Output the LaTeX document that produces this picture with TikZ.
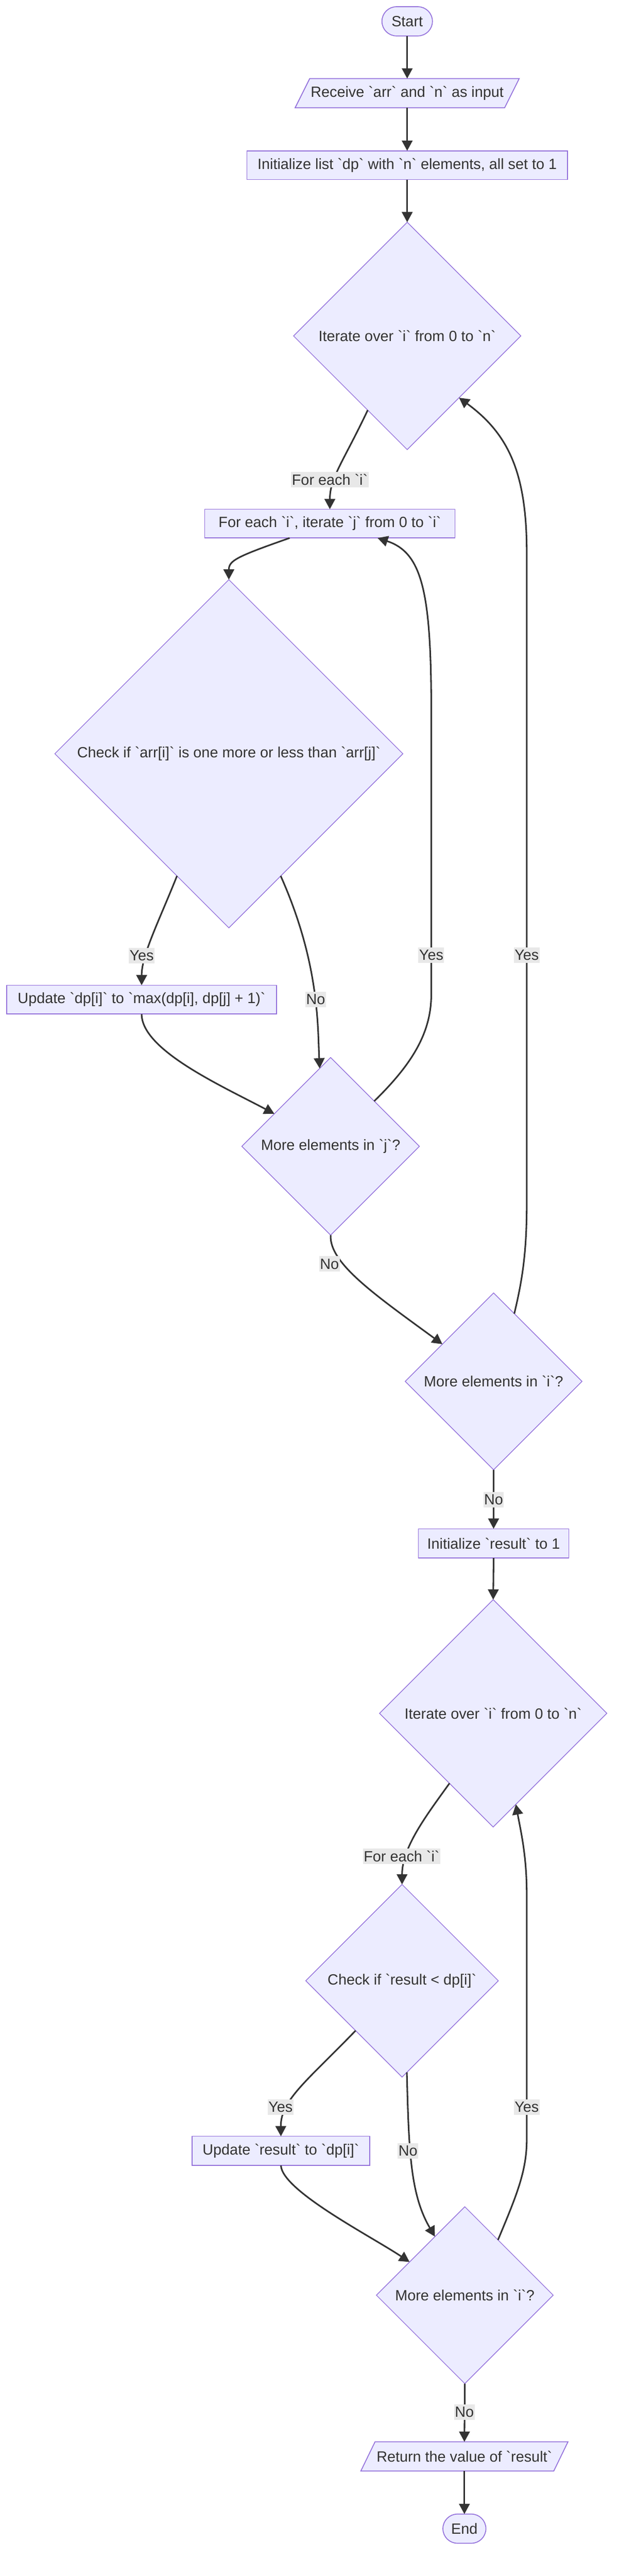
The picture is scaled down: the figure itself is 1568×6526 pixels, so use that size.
\documentclass[tikz,border=0pt]{standalone}
\usepackage{fontspec}
\setmainfont{Liberation Sans}[Ligatures=TeXOff]
\usetikzlibrary{shapes.geometric,arrows.meta,calc}
\definecolor{nfill}{HTML}{ECECFF}
\definecolor{nborder}{HTML}{9370DB}
\definecolor{edgec}{HTML}{333333}
\definecolor{lblbg}{HTML}{E8E8E8}
\pgfdeclarelayer{bg}
\pgfsetlayers{bg,main}
\tikzset{
  box/.style={rectangle, draw=nborder, fill=nfill, line width=1.1pt, inner sep=0pt, outer sep=0pt, minimum height=36.5pt},
  term/.style={rectangle, rounded corners=18.5pt, draw=nborder, fill=nfill, line width=1.1pt, inner sep=0pt, outer sep=0pt, minimum height=37pt},
  io/.style={rectangle, inner sep=0pt, outer sep=0pt, minimum height=37pt},
  pgram/.style={draw=nborder, fill=nfill, line width=1.1pt, line join=miter},
  dia/.style={diamond, aspect=1, draw=nborder, fill=nfill, line width=0.9pt, inner sep=0pt, outer sep=0pt},
  flow/.style={draw=edgec, line width=2pt, -{Triangle[length=13pt,width=13.5pt]}},
  elabel/.style={fill=lblbg, inner xsep=1pt, inner ysep=0pt, minimum height=19.5pt}
}
\begin{document}
\begin{tikzpicture}[x=0.5pt, y=-0.5pt, font=\fontsize{18.8}{22}\selectfont, text=edgec]
\begin{pgfonlayer}{bg}
\fill[white] (0,0) rectangle (1568,6526);
\end{pgfonlayer}
\useasboundingbox (0,0) rectangle (1568,6526);

% nodes
\node[term, minimum width=64pt] (start) at (1032,54) {Start};
\node[io, minimum width=265.5pt] (inp) at (1032,236) {Receive `arr` and `n` as input};
\node[box, minimum width=406pt] (initdp) at (1032,418.5) {Initialize list `dp` with `n` elements, all set to 1};
\node[dia, minimum width=288pt, minimum height=288pt] (d1) at (1032,851) {Iterate over `i` from 0 to `n`};
\node[box, minimum width=317pt] (fe) at (836,1326.5) {For each `i`, iterate `j` from 0 to `i`};
\node[dia, minimum width=441pt, minimum height=441pt] (d2) at (580,1909.5) {Check if `arr[i]` is one more or less than `arr[j]`};
\node[box, minimum width=342pt] (upd1) at (359,2532.5) {Update `dp[i]` to `max(dp[i], dp[j] + 1)`};
\node[dia, minimum width=225pt, minimum height=225pt] (d3) at (838,2904) {More elements in `j`?};
\node[dia, minimum width=224pt, minimum height=224pt] (d4) at (1251,3499.5) {More elements in `i`?};
\node[box, minimum width=190.5pt, minimum height=37pt] (initres) at (1251,3910) {Initialize `result` to 1};
\node[dia, minimum width=288pt, minimum height=288pt] (d5) at (1250,4340.5) {Iterate over `i` from 0 to `n`};
\node[dia, minimum width=244pt, minimum height=244pt] (d6) at (1019,5018) {Check if `result < dp[i]`};
\node[box, minimum width=225pt, minimum height=37pt] (upd2) at (712,5449) {Update `result` to `dp[i]`};
\node[dia, minimum width=224pt, minimum height=224pt] (d7) at (1178,5814.5) {More elements in `i`?};
\node[io, minimum width=244.5pt] (ret) at (1177,6223) {Return the value of `result`};
\node[term, minimum width=54.5pt] (endn) at (1177,6406) {End};

% parallelograms behind their texts
\begin{pgfonlayer}{bg}
\draw[pgram] ($(inp.south west)+(-18.5,0)$) -- ($(inp.north west)+(18.5,0)$) -- ($(inp.north east)+(18.5,0)$) -- ($(inp.south east)+(-18.5,0)$) -- cycle;
\draw[pgram] ($(ret.south west)+(-18,0)$) -- ($(ret.north west)+(18,0)$) -- ($(ret.north east)+(18,0)$) -- ($(ret.south east)+(-18,0)$) -- cycle;
\end{pgfonlayer}

% connectors
\draw[flow] (start.south) -- (inp.north);
\draw[flow] (inp.south) -- (initdp.north);
\draw[flow] (initdp.south) -- (d1.north);
\draw[flow] (d1.-118) .. controls (870,1170) and (836,1210) .. (fe.north);
\draw[flow] ([xshift=-51pt]fe.south) .. controls (600,1410) and (580,1420) .. (d2.north);
\draw[flow] (d2.-113) .. controls (400,2340) and (359,2420) .. (upd1.north);
\draw[flow] (d2.-67) .. controls (810,2440) and (805,2600) .. (d3.98);
\draw[flow] (upd1.south) .. controls (359,2660) and (560,2750) .. (d3.150);
\draw[flow] (d3.46) .. controls (1040,2700) and (1093,2620) .. (1093,2520) -- (1093,1800) .. controls (1093,1500) and (1070,1400) .. ([xshift=60.5pt]fe.south);
\draw[flow] (d3.south) .. controls (834,3200) and (950,3280) .. (d4.144);
\draw[flow] (d4.73.5) .. controls (1322,3250) and (1335,3180) .. (1335,3050) -- (1335,1400) .. controls (1335,1200) and (1290,1100) .. (d1.-50);
\draw[flow] (d4.south) -- (initres.north);
\draw[flow] (initres.south) -- (d5.north);
\draw[flow] (d5.-122.4) .. controls (1080,4600) and (1019,4680) .. (d6.north);
\draw[flow] (d6.-133.8) .. controls (780,5270) and (711,5320) .. (upd2.north);
\draw[flow] (d6.-87) .. controls (1036,5450) and (1040,5560) .. (d7.117.5);
\draw[flow] (upd2.south) .. controls (715,5550) and (940,5665) .. (d7.149.5);
\draw[flow] (d7.59.5) .. controls (1310,5560) and (1335,5500) .. (1335,5420) -- (1335,4800) .. controls (1335,4700) and (1320,4640) .. (d5.-76.3);
\draw[flow] (d7.south) -- (ret.north);
\draw[flow] (ret.south) -- (endn.north);

% edge labels
\node[elabel] (l1) at (836,1215) {For each `i`};
\node[elabel] (l2) at (359,2421) {Yes};
\node[elabel] (l3) at (800,2532) {No};
\node[elabel] (l4) at (1093,2420) {Yes};
\node[elabel] (l5) at (1335,2420) {Yes};
\node[elabel] (l6) at (835,3202) {No};
\node[elabel] (l7) at (1251,3799) {No};
\node[elabel] (l8) at (1018,4702) {For each `i`};
\node[elabel] (l9) at (711,5338) {Yes};
\node[elabel] (l10) at (1034,5449) {No};
\node[elabel] (l11) at (1335,5338) {Yes};
\node[elabel] (l12) at (1177,6111) {No};
\end{tikzpicture}
\end{document}
